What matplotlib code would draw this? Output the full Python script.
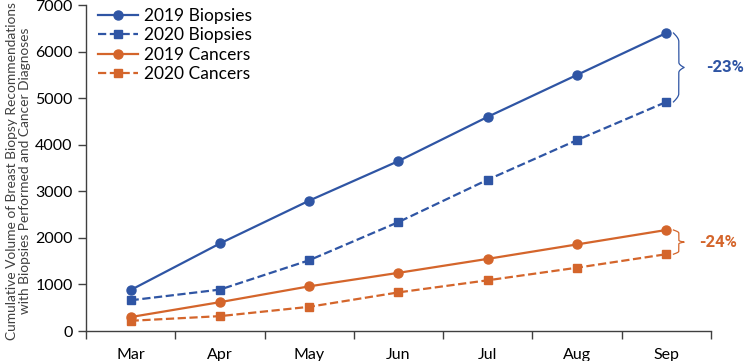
import numpy as np
import matplotlib
matplotlib.use("Agg")
import matplotlib.pyplot as plt

plt.rcParams['font.family'] = ['Lato', 'DejaVu Sans']

months = ['Mar', 'Apr', 'May', 'Jun', 'Jul', 'Aug', 'Sep']
biopsies_2019 = [880, 1880, 2800, 3650, 4600, 5500, 6400]
biopsies_2020 = [660, 890, 1520, 2340, 3250, 4100, 4920]
cancers_2019 = [300, 620, 960, 1250, 1550, 1860, 2170]
cancers_2020 = [220, 320, 520, 830, 1090, 1360, 1650]

blue = '#2F55A4'
orange = '#D4652B'

fig = plt.figure(figsize=(7.45, 3.61), dpi=100)
ax = fig.add_axes([0.1154, 0.083, 0.8389, 0.903])

x = np.arange(len(months))
ax.plot(x, biopsies_2019, '-o', color=blue, lw=1.6, ms=6.5, label='2019 Biopsies')
ax.plot(x, biopsies_2020, '--s', color=blue, lw=1.6, ms=6, label='2020 Biopsies')
ax.plot(x, cancers_2019, '-o', color=orange, lw=1.6, ms=6.5, label='2019 Cancers')
ax.plot(x, cancers_2020, '--s', color=orange, lw=1.6, ms=6, label='2020 Cancers')

ax.set_xlim(-0.5, 6.5)
ax.set_ylim(0, 7000)
ax.set_yticks(range(0, 7001, 1000))
ax.set_xticks(x)
ax.set_xticklabels(months)
ax.set_xticks(np.arange(-0.5, 7, 1), minor=True)
ax.tick_params(axis='x', which='major', length=0, pad=12, labelsize=11.5)
ax.tick_params(axis='x', which='minor', length=6, width=1, color='#404040')
ax.tick_params(axis='y', length=6, width=1, color='#404040', labelsize=11.5)
for s in ['top', 'right']:
    ax.spines[s].set_visible(False)
for s in ['left', 'bottom']:
    ax.spines[s].set_color('#404040')
    ax.spines[s].set_linewidth(1)

ax.set_ylabel('Cumulative Volume of Breast Biopsy Recommendations\n'
              'with Biopsies Performed and Cancer Diagnoses',
              fontsize=9.9, color='#404040', linespacing=1.05)
ax.yaxis.set_label_coords(-0.088, 0.49)

ax.legend(loc='upper left', bbox_to_anchor=(-0.005, 1.04), frameon=False,
          fontsize=12.5, handlelength=2.3, labelspacing=0.2, handletextpad=0.3)


def brace(x0, y_top, y_bot, width, color, label, lx):
    ymid = (y_top + y_bot) / 2
    h = np.linspace(0, 1, 100)
    # x offset along one half of the brace (from end to tip)
    xu = width * 0.5 * np.sin(np.pi * np.clip(h * 4, 0, 1) / 2) \
        + width * 0.5 * np.clip((h - 0.85) / 0.15, 0, 1) ** 2
    yu = y_top + (ymid - y_top) * h
    yl = y_bot + (ymid - y_bot) * h
    ax.plot(x0 + np.concatenate([xu, xu[::-1]]), np.concatenate([yu, yl[::-1]]),
            color=color, lw=0.9, clip_on=False)
    ax.text(lx, ymid, label, color=color, fontsize=12, family='Roboto',
            fontweight='bold', va='center', ha='left', clip_on=False)


brace(6.08, biopsies_2019[-1], biopsies_2020[-1], 0.12, blue, '-23%', 6.45)
brace(6.08, cancers_2019[-1], cancers_2020[-1], 0.12, orange, '-24%', 6.37)

fig.savefig('out.png', dpi=100)
